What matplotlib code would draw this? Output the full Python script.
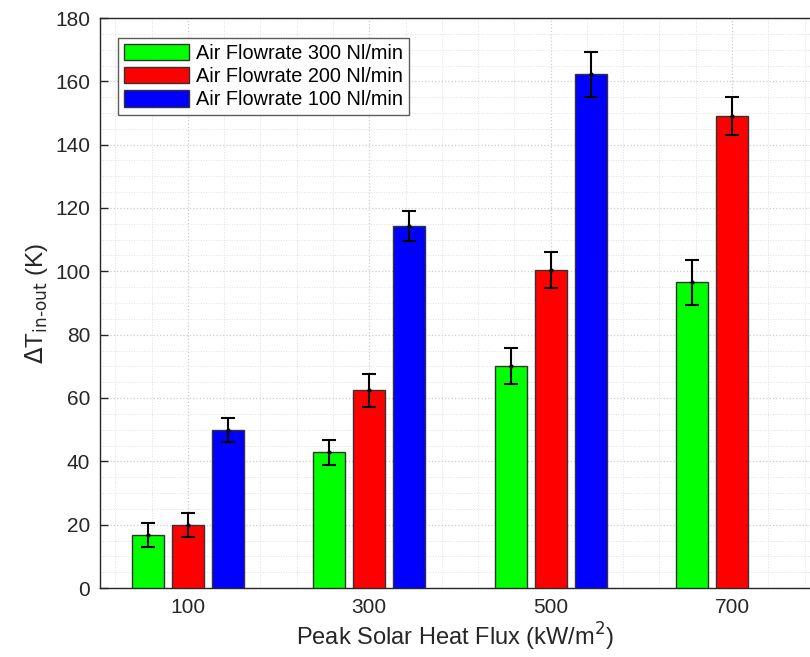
import matplotlib
matplotlib.use('Agg')
import matplotlib.pyplot as plt
from matplotlib.ticker import MultipleLocator
import numpy as np

plt.rcParams['font.family'] = ['Liberation Sans', 'DejaVu Sans']

# data
flux = ['100', '300', '500', '700']
labels = ['Air Flowrate 300 Nl/min', 'Air Flowrate 200 Nl/min', 'Air Flowrate 100 Nl/min']
colors = ['#00ff00', '#ff0000', '#0000ff']
dT_300 = [16.8, 42.8, 70.1, 96.5]
dT_200 = [19.8, 62.5, 100.4, 149.1]
dT_100 = [50.0, 114.3, 162.3, 0.0]
err_300 = [3.7, 4.0, 5.6, 7.1]
err_200 = [3.8, 5.2, 5.6, 6.0]
err_100 = [3.8, 4.8, 7.1, 0.0]

values = [dT_300, dT_200, dT_100]
errors = [err_300, err_200, err_100]

fig = plt.figure(figsize=(8.1, 6.57), dpi=100)
ax = fig.add_axes([100/810, 1 - 588/657, 1 - 100/810, 570/657])

x = np.arange(1, len(flux) + 1)
offsets = [-0.22, 0.0, 0.22]
width = 0.176

handles = []
for vals, errs, col, lab, off in zip(values, errors, colors, labels, offsets):
    show = np.array(vals) > 0
    b = ax.bar(x[show] + off, np.array(vals)[show], width, color=col,
               edgecolor='#333333', linewidth=1.0, label=lab, zorder=3)
    handles.append(b)
    ax.errorbar(x[show] + off, np.array(vals)[show], yerr=np.array(errs)[show],
                fmt='.', color='black', ms=4, elinewidth=1.5, capsize=5,
                capthick=1.5, zorder=4)

ax.set_xlim(0.515, 4.43)
ax.set_ylim(0, 180)
ax.set_xticks(x)
ax.set_xticklabels(flux)
ax.set_yticks(np.arange(0, 181, 20))
ax.xaxis.set_minor_locator(MultipleLocator(0.2))
ax.yaxis.set_minor_locator(MultipleLocator(5))

ax.grid(which='major', color='#cccccc', linestyle=':', linewidth=0.9, zorder=0)
ax.grid(which='minor', color='#e0e0e0', linestyle=':', linewidth=0.7, zorder=0)
ax.set_axisbelow(True)

ax.tick_params(which='major', direction='in', length=6, width=1.0,
               labelsize=15, colors='#262626', pad=7, top=False, right=False)
ax.tick_params(which='minor', length=0)
for s in ['left', 'bottom', 'top']:
    ax.spines[s].set_color('#262626')
    ax.spines[s].set_linewidth(1.0)
ax.spines['right'].set_visible(False)

ax.set_xlabel('Peak Solar Heat Flux (kW/m$^2$)', fontsize=17, color='#262626', labelpad=3)
ax.set_ylabel(r'$\Delta$T$_{\mathrm{in\text{-}out}}$ (K)', fontsize=17.5, color='#262626', labelpad=4)

leg = ax.legend(handles=handles, loc='upper left', bbox_to_anchor=(0.025, 0.965),
                fontsize=14.3, frameon=True, fancybox=False, handlelength=3.3,
                handleheight=0.9, handletextpad=0.35, labelspacing=0.2,
                borderpad=0.3, borderaxespad=0)
leg.get_frame().set_edgecolor('#333333')
leg.get_frame().set_linewidth(1.0)

fig.savefig('out.png', dpi=100)
